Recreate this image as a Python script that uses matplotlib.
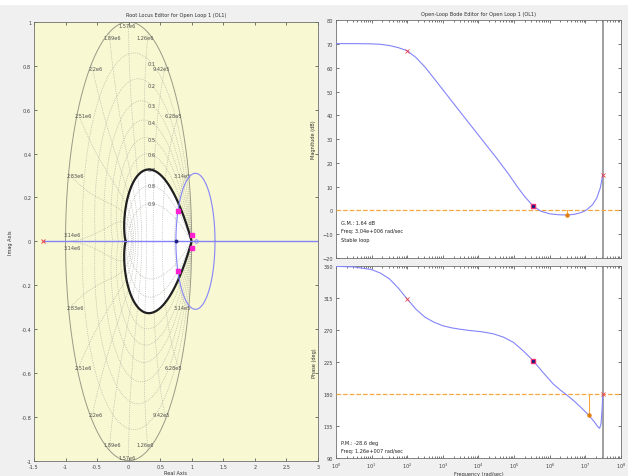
import numpy as np
import matplotlib.pyplot as plt
from matplotlib.patches import Rectangle

# ---- root locus data (z-plane) ----
rl_pole_x = -1.35
rl_circle_center = 1.06
rl_circle_radius = 0.31
cl_poles = [(0.78, 0.137), (0.78, -0.137), (0.998, 0.03), (0.998, -0.03)]
rl_dot = (0.75, 0.0)
rl_zero = (1.07, 0.0)
zeta_limit = 0.7
zeta_grid = [0.1, 0.2, 0.3, 0.4, 0.5, 0.6, 0.7, 0.8, 0.9]
wn_labels = ["3.14e5", "6.28e5", "9.42e5", "1.26e6", "1.57e6",
             "1.89e6", "2.2e6", "2.51e6", "2.83e6", "3.14e6"]

# ---- bode data ----
mag_dec = [0, 0.5, 1.0, 1.25, 1.5, 1.75, 2.0, 2.25, 2.5, 2.75, 3.0, 3.5, 4.0, 4.5,
           4.85, 5.1, 5.3, 5.54, 5.75, 6.0, 6.25, 6.48, 6.7, 6.9, 7.04, 7.2, 7.32, 7.42, 7.49]
mag_db = [70.2, 70.2, 70.1, 69.9, 69.4, 68.5, 67.2, 64.3, 60.3, 55.6, 50.8, 41.2, 31.7, 22.2,
          15.2, 9.8, 5.8, 1.8, -0.3, -1.4, -1.8, -1.9, -1.6, -0.8, 0.3, 2.4, 5.2, 9.5, 15.0]
ph_dec = [0, 0.5, 1.0, 1.25, 1.5, 1.75, 2.0, 2.25, 2.5, 2.75, 3.0, 3.25, 3.5, 3.76, 4.1,
          4.42, 4.7, 4.98, 5.25, 5.54, 5.8, 6.1, 6.3, 6.48, 6.7, 6.9, 7.09, 7.25, 7.35,
          7.4, 7.44, 7.47, 7.49]
ph_deg = [359.5, 358.8, 355, 350, 342, 329, 313.6, 299, 288, 281, 276, 273, 271, 269.3, 267.5,
          264.6, 260, 252.7, 241, 226.7, 211, 194, 185.5, 178.6, 169.5, 160, 150.5, 141, 134,
          131.7, 138, 158, 180]
nyq_dec = 7.49
gm_dec, gm_db = 6.48, -1.9
pm_dec, pm_deg = 7.09, 150.5
mark_mag = [(2.0, 67.2), (7.49, 15.0)]
mark_ph = [(2.0, 313.6), (7.49, 180.0)]
cl_mag = (5.54, 1.8)
cl_ph = (5.54, 226.7)

FS = 3.6
grid_c = '#a8a8a0'
blue = '#8484fa'
orange = '#f5a840'

fig = plt.figure(figsize=(6.28, 4.77), dpi=100)
fig.patch.set_facecolor('#f0f0f0')
fig.patches.append(Rectangle((0, 0.988), 1, 0.012, transform=fig.transFigure,
                             facecolor='white', edgecolor='none', zorder=-5))

# ================= Root locus =================
ax = fig.add_axes([0.0541, 0.032, 0.452, 0.920])
ax.set_facecolor('#f8f8d2')
ax.set_xlim(-1.5, 3)
ax.set_ylim(-1, 1)

# allowed region (zeta >= 0.7) in white
a = zeta_limit / np.sqrt(1 - zeta_limit**2)
th = np.linspace(-np.pi, np.pi, 600)
zr = np.exp(-a * np.abs(th)) * np.exp(1j * th)
ax.fill(zr.real, zr.imag, color='white', zorder=1)

# zgrid: damping curves
t = np.linspace(0, np.pi, 300)
for z in zeta_grid:
    b = z / np.sqrt(1 - z**2)
    c = np.exp(-b * t) * np.exp(1j * t)
    for s in (1, -1):
        ax.plot(c.real, s * c.imag, ls=':', lw=0.5, color=grid_c, zorder=2)
    # label where the curve crosses Re = 0.37
    i = np.argmin(np.abs(c.real - 0.37) + (c.imag < 0) * 10)
    ax.text(0.37, c.imag[i], str(z), fontsize=FS, ha='center', va='center',
            color='#505050', zorder=3)

# zgrid: natural frequency curves
zz = np.linspace(0, 1, 200)
for k in range(1, 11):
    wn = k * np.pi / 10
    c = np.exp(wn * (-zz + 1j * np.sqrt(1 - zz**2)))
    for s in (1, -1):
        ax.plot(c.real, s * c.imag, ls=':', lw=0.5, color=grid_c, zorder=2)
    lx = 0.91 * np.cos(wn) - 0.02 * np.sign(np.cos(wn))
    if k == 10:
        ax.text(lx, 0.018, wn_labels[k - 1], fontsize=FS, ha='center', va='bottom', color='#505050')
        ax.text(lx, -0.018, wn_labels[k - 1], fontsize=FS, ha='center', va='top', color='#505050')
    else:
        ly = 0.975 * np.sin(wn) if k != 5 else 0.985
        ax.text(lx, ly, wn_labels[k - 1], fontsize=FS, ha='center', va='center', color='#505050')
        ax.text(lx, -ly, wn_labels[k - 1], fontsize=FS, ha='center', va='center', color='#505050')

# unit circle
uc = np.exp(1j * np.linspace(0, 2 * np.pi, 400))
ax.plot(uc.real, uc.imag, color='#9a9a88', lw=0.7, zorder=2)

# constraint boundary
ax.plot(zr.real, zr.imag, color='#202020', lw=1.6, zorder=4)

# locus branches
ax.plot([rl_pole_x, 3.0], [0, 0], color=blue, lw=1.0, zorder=5)
cc = rl_circle_center + rl_circle_radius * np.exp(1j * np.linspace(0, 2 * np.pi, 400))
ax.plot(cc.real, cc.imag, color=blue, lw=0.8, zorder=5)
ax.plot(rl_pole_x, 0, marker='x', color='#f04040', ms=2.5, mew=0.7, zorder=6)
ax.plot(*rl_dot, marker='o', color='#202080', ms=1.8, zorder=6)
ax.plot(*rl_zero, marker='o', mfc='none', mec=blue, ms=2.5, mew=0.6, zorder=6)
for px, py in cl_poles:
    ax.plot(px, py, marker='s', color='#ff20d0', ms=2.2, zorder=7)

ax.set_xticks(np.arange(-1.5, 3.01, 0.5))
ax.set_xticklabels(['-1.5', '-1', '-0.5', '0', '0.5', '1', '1.5', '2', '2.5', '3'])
ax.set_yticks(np.arange(-1, 1.01, 0.2))
ax.set_yticklabels(['-1', '-0.8', '-0.6', '-0.4', '-0.2', '0', '0.2', '0.4', '0.6', '0.8', '1'])
ax.set_title('Root Locus Editor for Open Loop 1 (OL1)', fontsize=FS, pad=4, color='#303030')
ax.set_xlabel('Real Axis', fontsize=FS, labelpad=1, color='#303030')
ax.set_ylabel('Imag Axis', fontsize=FS, labelpad=6, color='#303030')

# ================= Bode =================
axm = fig.add_axes([0.535, 0.457, 0.4538, 0.4983])
axp = fig.add_axes([0.535, 0.0377, 0.4538, 0.4025])

fm = 10.0 ** np.array(mag_dec)
fp = 10.0 ** np.array(ph_dec)

axm.semilogx(fm, mag_db, color=blue, lw=0.8, zorder=4)
axm.axhline(0, color=orange, ls='--', lw=0.9, zorder=3)
axm.plot([10 ** gm_dec] * 2, [0, gm_db], color=orange, lw=0.8, zorder=3)
axm.plot(10 ** gm_dec, gm_db, 'o', color='#e08010', ms=2.2, zorder=6)
for d, v in mark_mag:
    axm.plot(10 ** d, v, 'x', color='#f04040', ms=2.2, mew=0.6, zorder=6)
axm.plot(10 ** cl_mag[0], cl_mag[1], 's', color='#ff3070', ms=2.6, zorder=6)
axm.plot(10 ** cl_mag[0], cl_mag[1], 's', color='#202080', ms=1.3, zorder=7)
axm.set_ylim(-20, 80)
axm.set_yticks(np.arange(-20, 81, 10))
axm.set_title('Open-Loop Bode Editor for Open Loop 1 (OL1)', fontsize=FS, pad=4, color='#303030')
axm.set_ylabel('Magnitude (dB)', fontsize=FS, labelpad=5, color='#303030')
axm.tick_params(labelbottom=False)
axm.text(10 ** 0.15, -8.5, 'G.M.: 1.64 dB\nFreq: 3.04e+006 rad/sec\nStable loop', fontsize=FS,
         va='center', linespacing=1.9, color='#202020')

axp.semilogx(fp, ph_deg, color=blue, lw=0.8, zorder=4)
axp.axhline(180, color=orange, ls='--', lw=0.9, zorder=3)
axp.plot([10 ** pm_dec] * 2, [180, pm_deg], color=orange, lw=0.8, zorder=3)
axp.plot(10 ** pm_dec, pm_deg, 'o', color='#e08010', ms=2.2, zorder=6)
for d, v in mark_ph:
    axp.plot(10 ** d, v, 'x', color='#f04040', ms=2.2, mew=0.6, zorder=6)
axp.plot(10 ** cl_ph[0], cl_ph[1], 's', color='#ff3070', ms=2.6, zorder=6)
axp.plot(10 ** cl_ph[0], cl_ph[1], 's', color='#202080', ms=1.3, zorder=7)
axp.set_ylim(90, 360)
axp.set_yticks(np.arange(90, 361, 45))
axp.set_ylabel('Phase (deg)', fontsize=FS, labelpad=5, color='#303030')
axp.set_xlabel('Frequency (rad/sec)', fontsize=FS, labelpad=1, color='#303030')
axp.text(10 ** 0.15, 106, 'P.M.: -28.6 deg\nFreq: 1.26e+007 rad/sec', fontsize=FS,
         va='center', linespacing=1.9, color='#202020')

for a_ in (axm, axp):
    a_.set_xlim(1, 1e8)
    a_.set_xticks(10.0 ** np.arange(0, 9))
    a_.axvline(10 ** nyq_dec, color='#909090', lw=1.2, zorder=2)

axp.set_xticklabels([r'$10^{%d}$' % i for i in range(9)])

for a_ in (ax, axm, axp):
    a_.tick_params(which='both', direction='in', top=True, right=True, labelsize=FS,
                   colors='#404040', length=2, width=0.5, pad=2)
    a_.tick_params(which='minor', length=1.2)
    for sp in a_.spines.values():
        sp.set_color('#707070')
        sp.set_linewidth(0.6)

fig.savefig('out.png', dpi=100, facecolor=fig.get_facecolor())
